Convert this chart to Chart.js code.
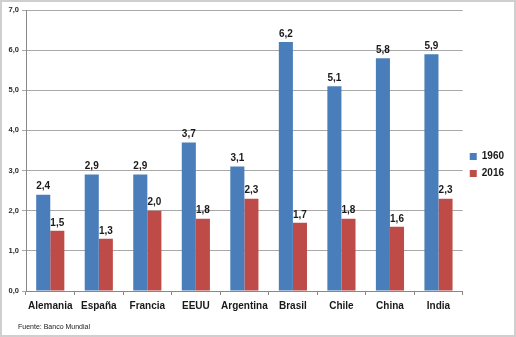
<!DOCTYPE html>
<html>
<head>
<meta charset="utf-8">
<script src="https://cdn.jsdelivr.net/npm/chart.js@4/dist/chart.umd.min.js"></script>
<style>
html,body{margin:0;padding:0;background:#fff;}
#wrap{position:relative;width:516px;height:337px;}
</style>
</head>
<body>
<div id="wrap"><canvas id="c" width="516" height="337"></canvas></div>
<script>
const categories = ["Alemania","España","Francia","EEUU","Argentina","Brasil","Chile","China","India"];
const values1960 = [2.4,2.9,2.9,3.7,3.1,6.2,5.1,5.8,5.9];
const values2016 = [1.5,1.3,2.0,1.8,2.3,1.7,1.8,1.6,2.3];
const seriesNames = ["1960","2016"];
const yTicks = [0,1,2,3,4,5,6,7];
const sourceNote = "Fuente: Banco Mundial";

const fmt = v => v.toFixed(1).replace('.', ',');
const FONT = "'Liberation Sans', Arial, sans-serif";

const labelPlugin = {
  id: 'barLabels',
  afterDatasetsDraw(chart) {
    const ctx = chart.ctx;
    ctx.save();
    ctx.font = "bold 10px " + FONT;
    ctx.fillStyle = '#1a1a1a';
    ctx.textAlign = 'center';
    ctx.textBaseline = 'bottom';
    chart.data.datasets.forEach((ds, i) => {
      const meta = chart.getDatasetMeta(i);
      meta.data.forEach((bar, j) => {
        ctx.fillText(fmt(ds.data[j]), bar.x, bar.y - 3);
      });
    });
    ctx.restore();
  }
};
const framePlugin = {
  id: 'frame',
  beforeDraw(chart) {
    const ctx = chart.ctx;
    ctx.save();
    ctx.fillStyle = '#fff';
    ctx.fillRect(0, 0, chart.width, chart.height);
    ctx.restore();
  },
  afterDraw(chart) {
    const ctx = chart.ctx;
    ctx.save();
    ctx.font = "7px " + FONT;
    ctx.fillStyle = '#1a1a1a';
    ctx.textAlign = 'left';
    ctx.textBaseline = 'middle';
    ctx.fillText(sourceNote, 18, 327);
    ctx.strokeStyle = '#cfcfcf';
    ctx.lineWidth = 2;
    ctx.strokeRect(1, 1, chart.width - 2, chart.height - 2);
    ctx.restore();
  }
};

new Chart(document.getElementById('c'), {
  type: 'bar',
  data: {
    labels: categories,
    datasets: [
      {label: seriesNames[0], data: values1960, backgroundColor: '#4a7ebb', categoryPercentage: 0.58, barPercentage: 1.0},
      {label: seriesNames[1], data: values2016, backgroundColor: '#be4b48', categoryPercentage: 0.58, barPercentage: 1.0}
    ]
  },
  options: {
    responsive: false,
    animation: false,
    devicePixelRatio: 1,
    layout: {padding: {left: 4, top: 10, right: 2, bottom: 17}},
    plugins: {
      legend: {
        position: 'right',
        labels: {boxWidth: 7, boxHeight: 7, padding: 7, color: '#1a1a1a', font: {family: FONT, size: 10, weight: 'bold'}}
      },
      tooltip: {enabled: false}
    },
    scales: {
      x: {
        grid: {display: true, drawOnChartArea: false, drawTicks: true, tickLength: 4, color: '#888'},
        border: {color: '#888'},
        ticks: {color: '#1a1a1a', padding: 5, autoSkip: false, font: {family: FONT, size: 10, weight: 'bold'}, maxRotation: 0},
        afterFit(s) { s.height = 29; }
      },
      y: {
        min: 0, max: 7,
        afterBuildTicks(s) { s.ticks = yTicks.map(v => ({value: v})); },
        grid: {color: '#a8a8a8', tickLength: 4, drawTicks: true},
        border: {color: '#888'},
        ticks: {color: '#2a2a2a', padding: 3, font: {family: FONT, size: 7.5, weight: 'bold'}, callback: v => fmt(v)},
        afterFit(s) { s.width = 22; }
      }
    }
  },
  plugins: [labelPlugin, framePlugin]
});
</script>
</body>
</html>
